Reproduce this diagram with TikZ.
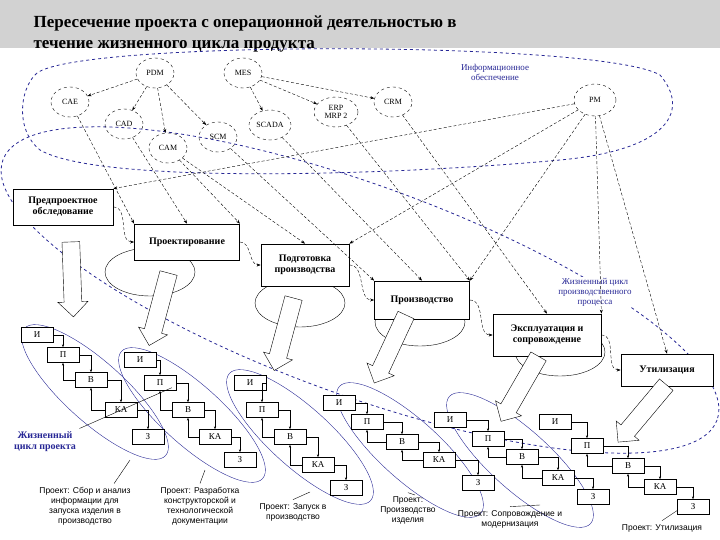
\documentclass[tikz,border=0pt]{standalone}
\usepackage{fontspec}
\setmainfont{Liberation Serif}
\newfontfamily\sansf{Liberation Sans}
\usetikzlibrary{shapes.arrows,shapes.geometric,arrows.meta}
\definecolor{dblue}{RGB}{40,40,150}
\begin{document}
\begin{tikzpicture}[x=1pt,y=-1pt,
 circ/.style={draw,dashed,ellipse,inner sep=1pt,minimum width=38,minimum height=30,font=\fontsize{8}{8}\selectfont,align=center},
 proc/.style={draw,fill=white,thick,font=\bfseries\fontsize{10}{11}\selectfont,align=center,inner sep=3pt},
 cb/.style={draw,fill=white,minimum width=32,minimum height=15,inner sep=0pt,font=\fontsize{9}{9}\selectfont},
 lk/.style={-{Stealth[length=4pt]},thin,densely dashed},
 ck/.style={-{Stealth[length=3pt]},thin},
 bigar/.style={draw,fill=white,single arrow,minimum height=75,minimum width=30,single arrow head extend=5pt,inner sep=7pt},
 plab/.style={font=\sansf\fontsize{8.5}{10}\selectfont,align=center},
 blab/.style={text=dblue,font=\fontsize{9}{10}\selectfont,align=center}]
\useasboundingbox (0,0) rectangle (720,540);
\clip (0,0) rectangle (720,540);
\fill[white] (0,0) rectangle (720,540);
\fill[gray!35] (0,0) rectangle (720,48);
\node[anchor=west,font=\bfseries\fontsize{17}{21}\selectfont,align=left] (title) at (30,34) {Пересечение проекта с операционной деятельностью в\\течение жизненного цикла продукта};
% information support ellipse
\draw[dblue,dashed,thick] (35,75) .. controls (60,40) and (600,40) .. (660,75) .. controls (690,110) and (670,150) .. (560,160) .. controls (400,175) and (100,185) .. (40,150) .. controls (15,130) and (20,90) .. (35,75);
\node[blab] (infl) at (495,72) {Информационное\\обеспечение};
% lifecycle ellipse
\draw[dblue,dashed,thick,rotate around={-20:(360,290)}] (360,290) ellipse (380 and 105);
\node[blab,fill=white,inner sep=1pt] (lcl) at (595,292) {Жизненный цикл\\производственного\\процесса};
% circles
\node[circ] (pdm) at (155,73) {PDM};
\node[circ] (mes) at (243,73) {MES};
\node[circ] (cae) at (70,102) {CAE};
\node[circ] (cad) at (124,124) {CAD};
\node[circ] (cam) at (168,148) {CAM};
\node[circ] (scm) at (218,137) {SCM};
\node[circ,minimum width=42] (scada) at (270,125) {SCADA};
\node[circ,minimum width=44] (erp) at (336,112) {ERP\\MRP 2};
\node[circ] (crm) at (393,102) {CRM};
\node[circ,minimum width=42,minimum height=32] (pm) at (595,100) {PM};
\draw[lk] (pdm) -- (cae); \draw[lk] (pdm) -- (cad); \draw[lk] (pdm) -- (cam); \draw[lk] (pdm) -- (scm);
\draw[lk] (mes) -- (scada); \draw[lk] (mes) -- (erp); \draw[lk] (mes) -- (crm);
% process small cycles
\foreach \cx/\cy in {150/272,300/303,420/322,560/352}{\draw[thin] (\cx,\cy) ellipse (45 and 24);}
% processes
\node[proc,minimum width=100,minimum height=36] (p1) at (63,207) {Предпроектное\\обследование};
\node[proc,minimum width=105,minimum height=36] (p2) at (187,242) {Проектирование};
\node[proc,minimum width=88,minimum height=42] (p3) at (305,265) {Подготовка\\производства};
\node[proc,minimum width=95,minimum height=38] (p4) at (422,300) {Производство};
\node[proc,minimum width=108,minimum height=42] (p5) at (547,335) {Эксплуатация и\\сопровождение};
\node[proc,minimum width=92,minimum height=32] (p6) at (667,370) {Утилизация};
\draw[lk] (p1.east) to[out=0,in=180] (p2.west);
\draw[lk] (p2.east) to[out=0,in=180] (p3.west);
\draw[lk] (p3.east) to[out=0,in=180] (p4.west);
\draw[lk] (p4.east) to[out=0,in=180] (p5.west);
\draw[lk] (p5.east) to[out=0,in=180] (p6.west);
% links circles -> processes
\draw[lk] (cae) -- (p2.north west);
\draw[lk] (cad) -- (p2.north);
\draw[lk] (cam) -- (p2.north east);
\draw[lk] (cam) -- (p3.north);
\draw[lk] (scm) -- (p4.north west);
\draw[lk] (scada) -- (p4.north);
\draw[lk] (erp) -- (p4.north east);
\draw[lk] (crm) -- (p5.north);
\draw[lk] (pm) -- (p1.north east);
\draw[lk] (pm) -- (p3.north east);
\draw[lk] (pm) -- (p4.north east);
\draw[lk] (pm) -- (p5.north east);
\draw[lk] (pm) -- (p6.north);
% chain ellipses
\foreach \cx/\cy in {95/392,192/415,300/437,410/450,520/460}{\draw[dblue,thin,rotate around={-42:(\cx,\cy)}] (\cx,\cy) ellipse (95 and 30);}
% big arrows
\node[bigar,rotate=-88] (a1) at (72,275) {};
\node[bigar,rotate=-105] (a2) at (160,305) {};
\node[bigar,rotate=-105] (a3) at (285,330) {};
\node[bigar,rotate=-115] (a4) at (392,345) {};
\node[bigar,rotate=-120] (a5) at (522,385) {};
\node[bigar,rotate=-130] (a6) at (645,410) {};
% chains
\newcommand\chain[6]{%
 \node[cb] (i#1) at #2 {И};
 \node[cb] (p#1x) at #3 {П};
 \node[cb] (v#1) at #4 {В};
 \node[cb] (k#1) at #5 {КА};
 \node[cb] (z#1) at #6 {З};
 \draw[ck] (i#1.east) -| (p#1x.north);
 \draw[ck] (p#1x.east) -| (v#1.north);
 \draw[ck] (v#1.east) -| (k#1.north);
 \draw[ck] (k#1.east) -| (z#1.north);
 \draw[ck] (v#1.west) -| (p#1x.south);
 \draw[ck] (k#1.west) -| (v#1.south);}
\chain{a}{(37,335)}{(63,355)}{(91,380)}{(121,410)}{(148,437)}
\chain{b}{(140,360)}{(160,383)}{(188,410)}{(215,437)}{(240,460)}
\chain{c}{(250,383)}{(262,410)}{(290,437)}{(318,465)}{(346,488)}
\chain{d}{(339,403)}{(367,422)}{(402,442)}{(439,460)}{(478,483)}
\chain{e}{(450,420)}{(488,439)}{(522,457)}{(558,478)}{(593,497)}
\chain{f}{(555,422)}{(587,446)}{(628,466)}{(660,487)}{(693,507)}
% labels
\node[text=dblue,font=\bfseries\fontsize{10}{11}\selectfont,align=center] (jcp) at (45,442) {Жизненный\\цикл проекта};
\draw[thin] (jcp.north east) -- (vb.west |- va.south) ;
\node[plab] (l1) at (85,506) {Проект: Сбор и анализ\\информации для\\запуска изделия в\\производство};
\node[plab] (l2) at (200,506) {Проект: Разработка\\конструкторской и\\технологической\\документации};
\node[plab] (l3) at (293,512) {Проект: Запуск в\\производство};
\node[plab] (l4) at (408,510) {Проект:\\Производство\\изделия};
\node[plab] (l5) at (510,519) {Проект: Сопровождение и\\модернизация};
\node[plab] (l6) at (662,528) {Проект: Утилизация};
\coordinate (e1) at (130,460); \coordinate (e2) at (205,470); \coordinate (e3) at (310,492);
\coordinate (e4) at (415,495); \coordinate (e5) at (540,505); \coordinate (e6) at (678,510);
\draw[thin] (l1.north east) ++(-20,0) -- (e1);
\draw[thin] (l2.north) -- (e2);
\draw[thin] (l3.north) -- (e3);
\draw[thin] (l4.north) -- (e4);
\draw[thin] (l5.north) -- (e5);
\draw[thin] (l6.north) -- (e6);
\end{tikzpicture}
\end{document}
